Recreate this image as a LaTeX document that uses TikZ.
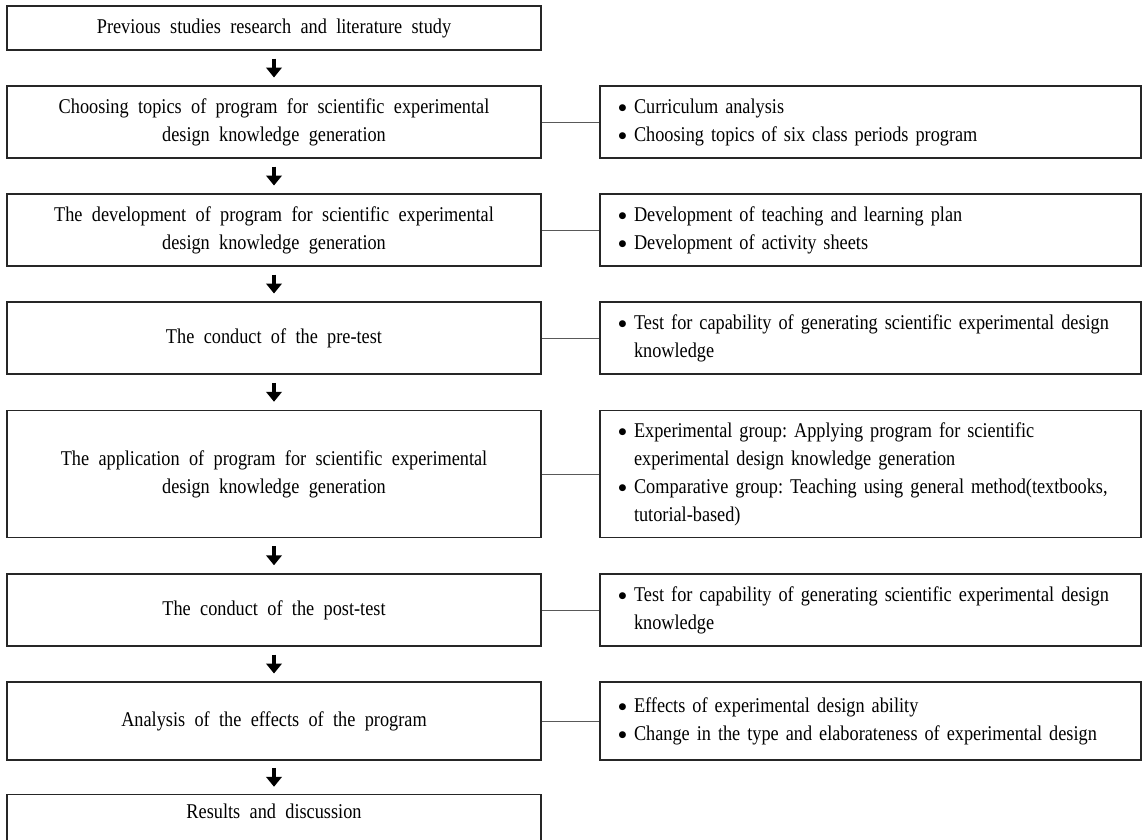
\documentclass[tikz,border=0pt]{standalone}
\usepackage{fontspec}
\setmainfont{Liberation Serif}[FakeStretch=0.87, WordSpace=2.05]
\newfontfamily\djv{DejaVu Sans}
\usetikzlibrary{calc,arrows.meta}
\newcommand\bul{\raisebox{2.2pt}{\djv\fontsize{9}{9}\selectfont ●}}
\newcommand\itm[1]{\makebox[16pt][l]{\hspace{0.5pt}\bul}#1}
\newcommand\cnt[1]{\hspace*{16pt}#1}
\tikzset{
  lbox/.style={draw=black!85, line width=1.1pt, minimum width=534pt, inner sep=0pt, align=center},
  rbox/.style={draw=black!85, line width=1.1pt, text width=505pt, inner xsep=18pt, inner ysep=0pt, align=left},
  conn/.style={draw=black!65, line width=1pt},
  bigarrow/.style={line width=4.6pt, -{Triangle[width=15.5pt,length=10pt]}}
}
\begin{document}
\frenchspacing
\begin{tikzpicture}[x=1pt,y=-1pt,font=\frenchspacing\fontsize{21}{28}\selectfont]
\useasboundingbox (0,0) rectangle (1142,839);
% left column
\node[lbox, minimum height=44pt] (b1) at (274,28) {Previous studies research and literature study};
\node[lbox, minimum height=72pt] (b2) at (274,122) {Choosing topics of program for scientific experimental\\design knowledge generation};
\node[lbox, minimum height=72pt] (b3) at (274,230) {The development of program for scientific experimental\\design knowledge generation};
\node[lbox, minimum height=72pt] (b4) at (274,338) {The conduct of the pre-test};
\node[lbox, minimum height=127pt] (b5) at (274,474) {The application of program for scientific experimental\\design knowledge generation};
\node[lbox, minimum height=72pt] (b6) at (274,610) {The conduct of the post-test};
\node[lbox, minimum height=78pt] (b7) at (274,721) {Analysis of the effects of the program};
\node[lbox, minimum height=48pt, anchor=north, text height=14pt, text depth=14pt] (b8) at (274,794) {Results and discussion};
% right column
\node[rbox, minimum height=72pt] (r2) at (870.5,122) {\itm{Curriculum analysis}\\\itm{Choosing topics of six class periods program}};
\node[rbox, minimum height=72pt] (r3) at (870.5,230) {\itm{Development of teaching and learning plan}\\\itm{Development of activity sheets}};
\node[rbox, minimum height=72pt] (r4) at (870.5,338) {\itm{Test for capability of generating scientific experimental design}\\\cnt{knowledge}};
\node[rbox, minimum height=127pt] (r5) at (870.5,474) {\itm{Experimental group: Applying program for scientific}\\\cnt{experimental design knowledge generation}\\\itm{Comparative group: Teaching using general method(textbooks,}\\\cnt{tutorial-based)}};
\node[rbox, minimum height=72pt] (r6) at (870.5,610) {\itm{Test for capability of generating scientific experimental design}\\\cnt{knowledge}};
\node[rbox, minimum height=78pt] (r7) at (870.5,721) {\itm{Effects of experimental design ability}\\\itm{Change in the type and elaborateness of experimental design}};
% connectors
\foreach \i in {2,...,7} { \draw[conn] (b\i.east) -- (r\i.west); }
% arrows
\foreach \a/\b in {b1/b2,b2/b3,b3/b4,b4/b5,b5/b6,b6/b7,b7/b8} {
  \draw[bigarrow] ($(\a.south)!.5!(\b.north)+(0,-9.5)$) -- ($(\a.south)!.5!(\b.north)+(0,9.5)$);
}
\end{tikzpicture}
\end{document}
